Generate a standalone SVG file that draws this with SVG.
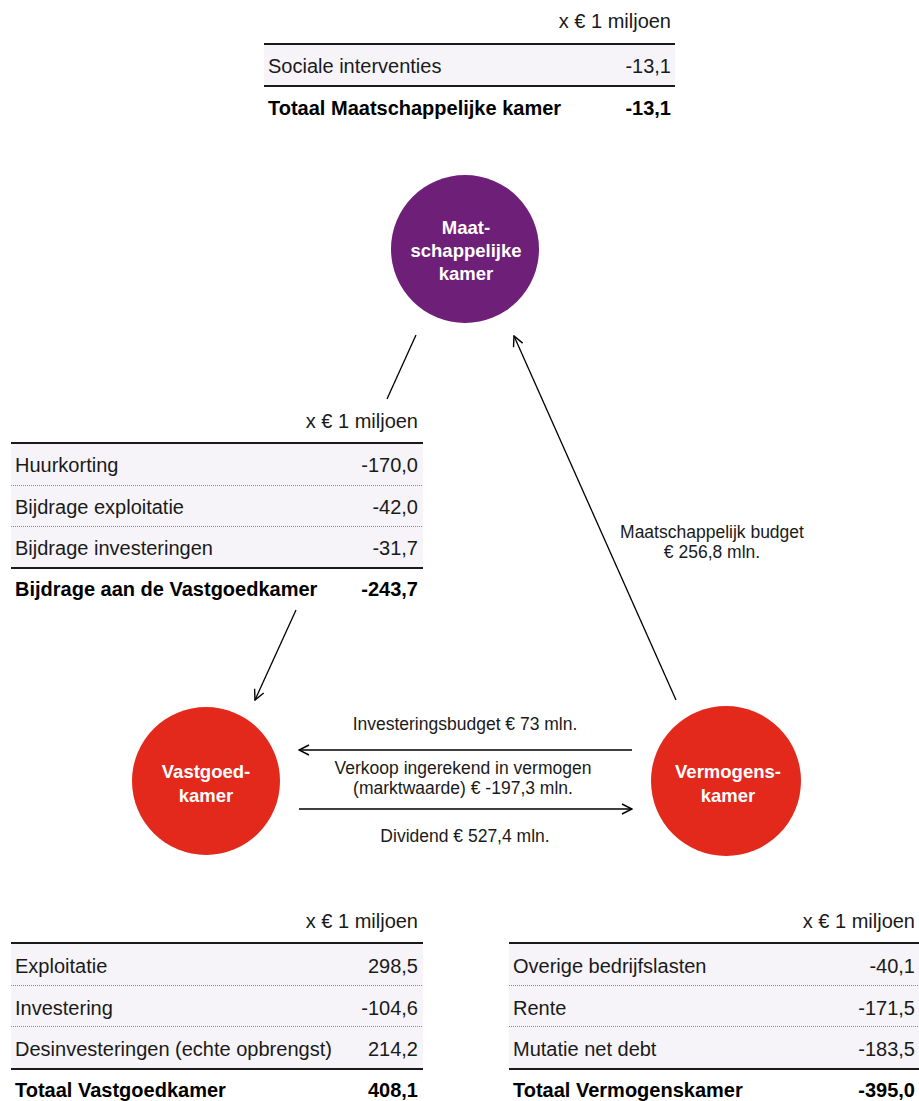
<svg xmlns="http://www.w3.org/2000/svg" width="919" height="1101" viewBox="0 0 919 1101">
<defs>
<style>
.t{font-family:"Liberation Sans",Arial,sans-serif;font-size:20px;fill:#1a1a1a}
.b{font-weight:bold;fill:#000}
.r{text-anchor:end}
.lbl{font-family:"Liberation Sans",Arial,sans-serif;font-size:17.5px;fill:#1a1a1a;text-anchor:middle}
.ct{font-family:"Liberation Sans",Arial,sans-serif;font-size:18.5px;font-weight:bold;fill:#fff;text-anchor:middle}
.row{fill:#f6f4f8}
.thick{stroke:#1a1a1a;stroke-width:2.2}
.dot{stroke:#8a8a8a;stroke-width:1;stroke-dasharray:1 1}
.con{stroke:#000;stroke-width:1.3;fill:none}
</style>
<marker id="ah" viewBox="0 0 12 12" refX="11" refY="6" markerWidth="12" markerHeight="12" markerUnits="userSpaceOnUse" orient="auto">
<path d="M1,1 L11,6 L1,11" fill="none" stroke="#000" stroke-width="1.4"/>
</marker>
</defs>
<rect width="919" height="1101" fill="#fff"/>

<g id="table-maatschappelijk">
<text class="t r" x="671" y="28">x € 1 miljoen</text>
<rect class="row" x="264" y="45" width="411" height="41"/>
<line class="thick" x1="264" y1="44" x2="675" y2="44"/>
<line class="thick" x1="264" y1="86" x2="675" y2="86"/>
<text class="t" x="268" y="73">Sociale interventies</text>
<text class="t r" x="671" y="73">-13,1</text>
<text class="t b" x="268" y="115">Totaal Maatschappelijke kamer</text>
<text class="t b r" x="671" y="115">-13,1</text>
</g>

<g id="node-maatschappelijk">
<circle cx="465" cy="249" r="74" fill="#6e1f78"/>
<text class="ct" x="466" y="234">Maat-</text>
<text class="ct" x="466" y="257">schappelijke</text>
<text class="ct" x="466" y="280">kamer</text>
</g>

<g id="table-bijdrage">
<text class="t r" x="418" y="428">x € 1 miljoen</text>
<rect class="row" x="11" y="444" width="412" height="124"/>
<line class="thick" x1="11" y1="443" x2="423" y2="443"/>
<line class="dot" x1="11" y1="485.5" x2="423" y2="485.5"/>
<line class="dot" x1="11" y1="526.5" x2="423" y2="526.5"/>
<line class="thick" x1="11" y1="568" x2="423" y2="568"/>
<text class="t" x="15" y="472">Huurkorting</text>
<text class="t r" x="418" y="472">-170,0</text>
<text class="t" x="15" y="514">Bijdrage exploitatie</text>
<text class="t r" x="418" y="514">-42,0</text>
<text class="t" x="15" y="555">Bijdrage investeringen</text>
<text class="t r" x="418" y="555">-31,7</text>
<text class="t b" x="15" y="596">Bijdrage aan de Vastgoedkamer</text>
<text class="t b r" x="418" y="596">-243,7</text>
</g>

<g id="node-vastgoed">
<circle cx="206" cy="781" r="74" fill="#e3281c"/>
<text class="ct" x="206" y="778">Vastgoed-</text>
<text class="ct" x="206" y="802">kamer</text>
</g>

<g id="node-vermogens">
<circle cx="726" cy="781" r="75" fill="#e3281c"/>
<text class="ct" x="728" y="778">Vermogens-</text>
<text class="ct" x="728" y="802">kamer</text>
</g>

<g id="connectors">
<line class="con" x1="416" y1="335" x2="387" y2="399"/>
<line class="con" x1="676" y1="700" x2="514" y2="336" marker-end="url(#ah)"/>
<line class="con" x1="296" y1="610" x2="255" y2="700" marker-end="url(#ah)"/>
<line class="con" x1="632" y1="750" x2="299" y2="750" marker-end="url(#ah)"/>
<line class="con" x1="299" y1="809" x2="632" y2="809" marker-end="url(#ah)"/>
<text class="lbl" x="712" y="538">Maatschappelijk budget</text>
<text class="lbl" x="712" y="558">€ 256,8 mln.</text>
<text class="lbl" x="465" y="730">Investeringsbudget € 73 mln.</text>
<text class="lbl" x="463" y="774">Verkoop ingerekend in vermogen</text>
<text class="lbl" x="463" y="794">(marktwaarde) € -197,3 mln.</text>
<text class="lbl" x="465" y="842">Dividend € 527,4 mln.</text>
</g>

<g id="table-vastgoed">
<text class="t r" x="418" y="928">x € 1 miljoen</text>
<rect class="row" x="11" y="944" width="412" height="124"/>
<line class="thick" x1="11" y1="943" x2="423" y2="943"/>
<line class="dot" x1="11" y1="985.5" x2="423" y2="985.5"/>
<line class="dot" x1="11" y1="1026.5" x2="423" y2="1026.5"/>
<line class="thick" x1="11" y1="1069" x2="423" y2="1069"/>
<text class="t" x="15" y="973">Exploitatie</text>
<text class="t r" x="418" y="973">298,5</text>
<text class="t" x="15" y="1015">Investering</text>
<text class="t r" x="418" y="1015">-104,6</text>
<text class="t" x="15" y="1056">Desinvesteringen (echte opbrengst)</text>
<text class="t r" x="418" y="1056">214,2</text>
<text class="t b" x="15" y="1097">Totaal Vastgoedkamer</text>
<text class="t b r" x="418" y="1097">408,1</text>
</g>

<g id="table-vermogens">
<text class="t r" x="915" y="928">x € 1 miljoen</text>
<rect class="row" x="509" y="944" width="410" height="124"/>
<line class="thick" x1="509" y1="943" x2="919" y2="943"/>
<line class="dot" x1="509" y1="985.5" x2="919" y2="985.5"/>
<line class="dot" x1="509" y1="1026.5" x2="919" y2="1026.5"/>
<line class="thick" x1="509" y1="1069" x2="919" y2="1069"/>
<text class="t" x="513" y="973">Overige bedrijfslasten</text>
<text class="t r" x="915" y="973">-40,1</text>
<text class="t" x="513" y="1015">Rente</text>
<text class="t r" x="915" y="1015">-171,5</text>
<text class="t" x="513" y="1056">Mutatie net debt</text>
<text class="t r" x="915" y="1056">-183,5</text>
<text class="t b" x="513" y="1097">Totaal Vermogenskamer</text>
<text class="t b r" x="915" y="1097">-395,0</text>
</g>
</svg>
